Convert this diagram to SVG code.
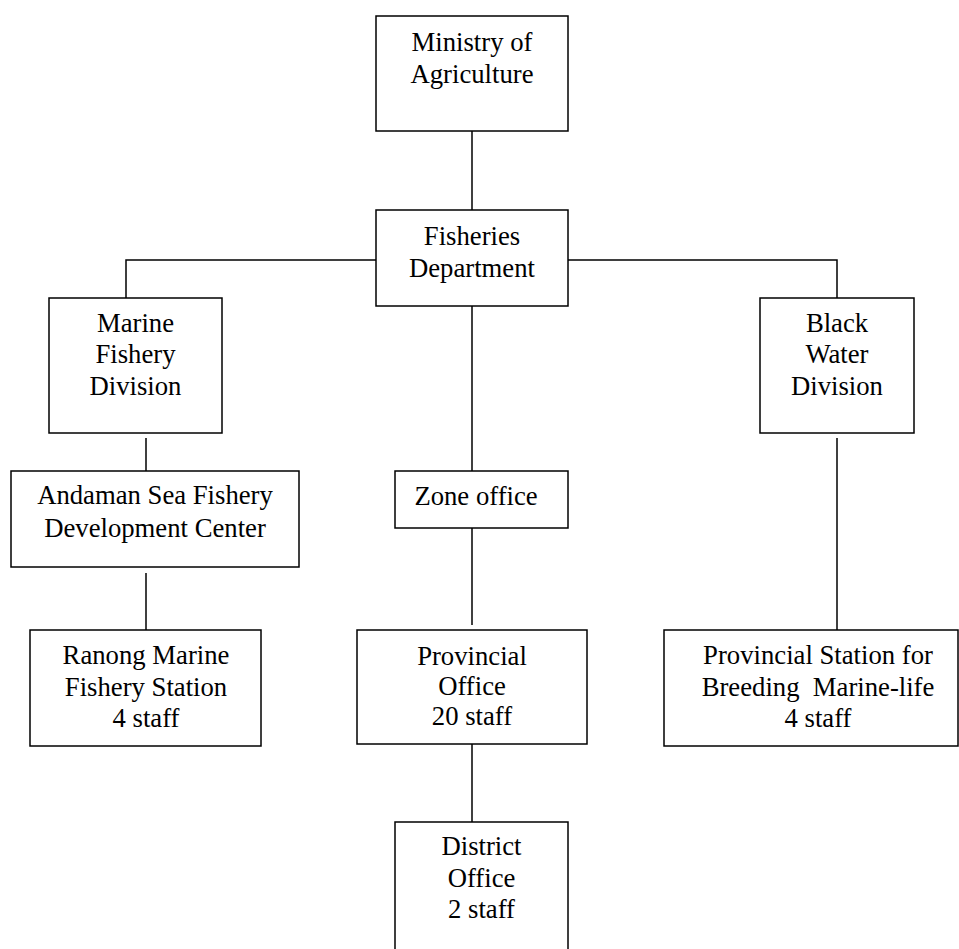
<svg xmlns="http://www.w3.org/2000/svg" width="959" height="949" viewBox="0 0 959 949">
<style>
.box{fill:#fff;stroke:#000;stroke-width:1.5}
.ln{fill:none;stroke:#000;stroke-width:1.5}
text{font-family:"Liberation Serif","Times New Roman",serif;font-size:26.7px;fill:#000;text-anchor:middle;white-space:pre}
</style>
<rect width="959" height="949" fill="#fff"/>
<g id="connectors">
<line class="ln" x1="472" y1="131" x2="472" y2="210"/>
<polyline class="ln" points="376,260 126,260 126,298"/>
<polyline class="ln" points="568,260 837,260 837,298"/>
<line class="ln" x1="472" y1="306" x2="472" y2="477"/>
<line class="ln" x1="146" y1="438" x2="146" y2="477"/>
<line class="ln" x1="146" y1="573" x2="146" y2="630"/>
<line class="ln" x1="472" y1="528" x2="472" y2="625"/>
<line class="ln" x1="472" y1="744" x2="472" y2="822"/>
<line class="ln" x1="837" y1="438" x2="837" y2="630"/>
</g>
<g id="ministry">
<rect class="box" x="376" y="16" width="192" height="115"/>
<text x="472" y="51">Ministry of</text>
<text x="472" y="83">Agriculture</text>
</g>
<g id="fisheries">
<rect class="box" x="376" y="210" width="192" height="96"/>
<text x="472" y="245">Fisheries</text>
<text x="472" y="277">Department</text>
</g>
<g id="marine">
<rect class="box" x="49" y="298" width="173" height="135"/>
<text x="135.5" y="332">Marine</text>
<text x="135.5" y="363">Fishery</text>
<text x="135.5" y="395">Division</text>
</g>
<g id="blackwater">
<rect class="box" x="760" y="298" width="154" height="135"/>
<text x="837" y="332">Black</text>
<text x="837" y="363">Water</text>
<text x="837" y="395">Division</text>
</g>
<g id="andaman">
<rect class="box" x="11" y="471" width="288" height="96"/>
<text x="155" y="504">Andaman Sea Fishery</text>
<text x="155" y="537">Development Center</text>
</g>
<g id="zone">
<rect class="box" x="395" y="471" width="173" height="57"/>
<text x="476" y="505">Zone office</text>
</g>
<g id="ranong">
<rect class="box" x="30" y="630" width="231" height="116"/>
<text x="146" y="664">Ranong Marine</text>
<text x="146" y="696">Fishery Station</text>
<text x="146" y="727">4 staff</text>
</g>
<g id="provincial">
<rect class="box" x="357" y="630" width="230" height="114"/>
<text x="472" y="665">Provincial</text>
<text x="472" y="695">Office</text>
<text x="472" y="725">20 staff</text>
</g>
<g id="station">
<rect class="box" x="664" y="630" width="294" height="116"/>
<text x="818" y="664">Provincial Station for</text>
<text x="818" y="696">Breeding  Marine-life</text>
<text x="818" y="727">4 staff</text>
</g>
<g id="district">
<rect class="box" x="395" y="822" width="173" height="140"/>
<text x="481.5" y="855">District</text>
<text x="481.5" y="887">Office</text>
<text x="481.5" y="918">2 staff</text>
</g>
</svg>
